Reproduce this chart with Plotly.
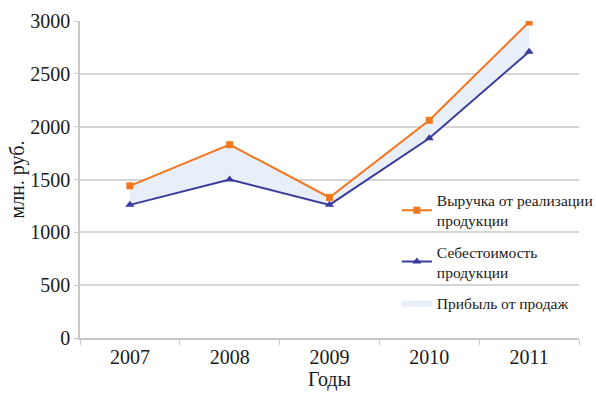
import plotly.graph_objects as go

years = ["2007", "2008", "2009", "2010", "2011"]
revenue = [1440, 1830, 1330, 2060, 2990]
cost = [1260, 1500, 1260, 1890, 2710]

name_revenue = "Выручка от реализации<br>продукции"
name_cost = "Себестоимость<br>продукции"
name_profit = "Прибыль от продаж"

orange = "#f2761e"
indigo = "#3a3a9c"
fill_col = "#e9eff9"
grid_col = "#d6d6d6"
serif = "Liberation Serif"

fig = go.Figure()

# shaded band between cost and revenue (profit)
fig.add_trace(go.Scatter(
    x=years, y=cost, mode="lines", line=dict(width=0, color=fill_col),
    showlegend=False, hoverinfo="skip", legendgroup="p",
))
fig.add_trace(go.Scatter(
    x=years, y=revenue, mode="lines", line=dict(width=0, color=fill_col),
    fill="tonexty", fillcolor=fill_col, name=name_profit,
    legendgroup="p", legendrank=3,
))

fig.add_trace(go.Scatter(
    x=years, y=revenue, mode="lines+markers", name=name_revenue,
    line=dict(color=orange, width=2),
    marker=dict(symbol="square", size=7, color=orange),
    legendgroup="r", legendrank=1,
))
fig.add_trace(go.Scatter(
    x=years, y=cost, mode="lines+markers", name=name_cost,
    line=dict(color=indigo, width=2),
    marker=dict(symbol="triangle-up", size=8, color=indigo),
    legendgroup="c", legendrank=2,
))

fig.update_layout(
    width=596, height=394,
    margin=dict(l=80, r=17, t=21, b=56, autoexpand=False),
    paper_bgcolor="white", plot_bgcolor="white",
    font=dict(family=serif, size=20, color="#1a1a1a"),
    legend=dict(
        x=0.635, y=0.487, xanchor="left", yanchor="top",
        bgcolor="rgba(0,0,0,0)", font=dict(size=15.5, family=serif, color="#1a1a1a"),
        tracegroupgap=8, traceorder="grouped",
    ),
    xaxis=dict(
        title=dict(text="Годы", standoff=4, font=dict(family=serif, size=20)),
        automargin=False, range=[-0.5, 4.5],
        showgrid=False, showline=True, linecolor="#c8c8c8", linewidth=1.5,
        ticks="outside", tickson="boundaries", ticklen=5, tickcolor="#c8c8c8",
        tickfont=dict(family=serif, size=20),
    ),
    yaxis=dict(
        title=dict(text="млн. руб.", standoff=0, font=dict(family=serif, size=20)),
        automargin=False,
        range=[0, 3000], dtick=500,
        showgrid=True, gridcolor=grid_col, gridwidth=1.5,
        showline=True, linecolor="#c8c8c8", linewidth=1.5,
        ticks="outside", ticklen=4, tickcolor="#c8c8c8",
        tickfont=dict(family=serif, size=20),
        zeroline=False,
    ),
)

fig.write_html("out.html")
